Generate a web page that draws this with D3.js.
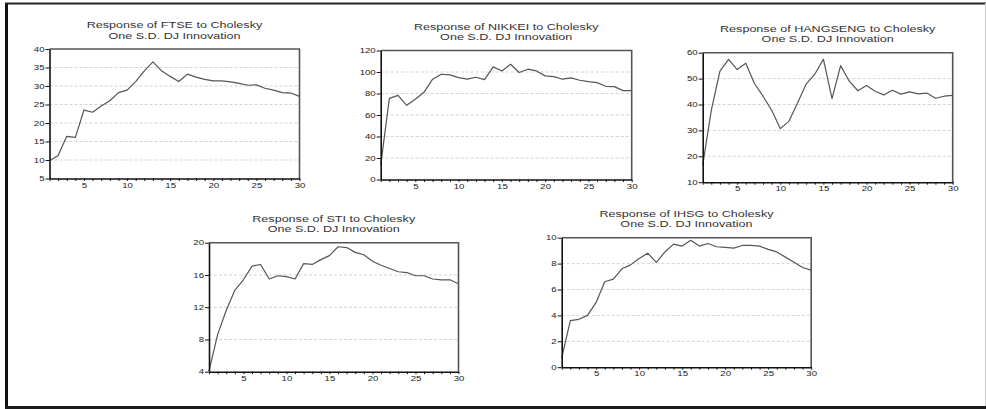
<!DOCTYPE html>
<html><head><meta charset="utf-8">
<script src="https://cdn.jsdelivr.net/npm/d3@7"></script>
<style>
html,body{margin:0;padding:0;background:#fff;}
svg{display:block;font-family:"Liberation Sans",Arial,sans-serif;}
</style></head>
<body><svg id="chart" width="986" height="409"></svg>
<script>
// ---- data ----
const periods = [1,2,3,4,5,6,7,8,9,10,11,12,13,14,15,16,17,18,19,20,21,22,23,24,25,26,27,28,29,30];
const xTickLabels = [5,10,15,20,25,30];

const ftse = [9.8,11.2,16.4,16.1,23.5,22.9,24.6,26.0,28.2,28.9,31.2,34.1,36.5,34.1,32.6,31.2,33.2,32.4,31.8,31.4,31.4,31.1,30.7,30.2,30.3,29.4,28.9,28.2,28.1,27.2];
const nikkei = [13.4,75.5,78.3,69.0,74.6,81.1,93.3,97.9,97.3,94.8,93.3,95.1,92.9,104.8,101.0,107.2,99.5,102.6,101.0,96.4,95.7,93.3,94.5,92.3,91.1,90.1,86.7,86.4,82.7,82.7];
const hangseng = [16.5,37.8,52.9,57.4,53.5,55.9,48.1,43.2,37.8,30.7,33.5,40.6,47.9,51.7,57.5,42.3,55.0,49.0,45.3,47.3,45.1,43.7,45.5,44.0,44.9,44.1,44.4,42.4,43.2,43.5];
const sti = [4.1,8.6,11.6,14.1,15.4,17.1,17.3,15.5,15.9,15.8,15.5,17.4,17.3,17.9,18.4,19.5,19.4,18.8,18.5,17.7,17.2,16.8,16.4,16.3,15.9,15.9,15.5,15.4,15.4,14.9];
const ihsg = [0.7,3.6,3.7,4.0,5.0,6.6,6.8,7.6,7.9,8.4,8.8,8.1,8.9,9.5,9.35,9.8,9.35,9.55,9.3,9.25,9.2,9.4,9.4,9.35,9.1,8.9,8.5,8.1,7.7,7.5];

const ftseTicks = [5,10,15,20,25,30,35,40];
const nikkeiTicks = [0,20,40,60,80,100,120];
const hangsengTicks = [10,20,30,40,50,60];
const stiTicks = [4,8,12,16,20];
const ihsgTicks = [0,2,4,6,8,10];

const titles1 = ["Response of FTSE to Cholesky","Response of NIKKEI to Cholesky","Response of HANGSENG to Cholesky","Response of STI to Cholesky","Response of IHSG to Cholesky"];
const title2 = "One S.D. DJ Innovation";

// ---- layout ----
const panels = [
  {title: titles1[0], values: ftse, ticks: ftseTicks, L: 49.5, T: 49, W: 250, H: 129.5},
  {title: titles1[1], values: nikkei, ticks: nikkeiTicks, L: 380.7, T: 50.5, W: 251, H: 129},
  {title: titles1[2], values: hangseng, ticks: hangsengTicks, L: 702.7, T: 52.7, W: 250, H: 129.5},
  {title: titles1[3], values: sti, ticks: stiTicks, L: 209, T: 242.7, W: 249.5, H: 129},
  {title: titles1[4], values: ihsg, ticks: ihsgTicks, L: 561.7, T: 237.7, W: 249.5, H: 129.5}
];

const svg = d3.select("#chart");
const STRETCH = 1.48;
function stretch(sel){
  sel.each(function(){
    const w = this.getComputedTextLength();
    this.setAttribute("textLength", w*STRETCH);
    this.setAttribute("lengthAdjust","spacingAndGlyphs");
  });
}

// outer border
svg.append("line").attr("x1",6.5).attr("x2",6.5).attr("y1",3).attr("y2",409).attr("stroke","#111").attr("stroke-width",3);
svg.append("line").attr("x1",5).attr("x2",986).attr("y1",3.5).attr("y2",3.5).attr("stroke","#222").attr("stroke-width",2);
svg.append("line").attr("x1",5).attr("x2",986).attr("y1",407.5).attr("y2",407.5).attr("stroke","#1a1a1a").attr("stroke-width",3);
svg.append("line").attr("x1",985.5).attr("x2",985.5).attr("y1",3).attr("y2",406).attr("stroke","#ccc").attr("stroke-width",1);

panels.forEach(p => {
  const g = svg.append("g").attr("transform",`translate(${p.L},${p.T})`);
  const x = d3.scaleLinear().domain([1,30]).range([0,p.W]);
  const y = d3.scaleLinear().domain(d3.extent(p.ticks)).range([p.H,0]);

  // gridlines
  g.append("g").selectAll("line").data(p.ticks.slice(1,-1)).join("line")
    .attr("x1",0).attr("x2",p.W).attr("y1",d=>y(d)).attr("y2",d=>y(d))
    .attr("stroke","#c8c8c8").attr("stroke-width",0.8).attr("stroke-dasharray","3,2");

  // frame top/right
  g.append("path").attr("d",`M0,0H${p.W}V${p.H}`).attr("fill","none").attr("stroke","#555").attr("stroke-width",1.6);

  // series line
  g.append("path").datum(p.values)
    .attr("fill","none").attr("stroke","#555").attr("stroke-width",1.2).attr("stroke-linejoin","round")
    .attr("d", d3.line().x((d,i)=>x(periods[i])).y(d=>y(d)));

  // axes
  const ya = g.append("g").call(d3.axisLeft(y).tickValues(p.ticks).tickSize(4).tickSizeOuter(0).tickPadding(1));
  const xa = g.append("g").attr("transform",`translate(0,${p.H})`)
    .call(d3.axisBottom(x).tickValues(periods).tickSize(2.5).tickSizeOuter(0).tickPadding(2)
      .tickFormat(d => xTickLabels.includes(d) ? d : ""));
  [ya,xa].forEach(a => {
    a.select(".domain").attr("stroke","#111").attr("stroke-width",1.6);
    a.selectAll(".tick line").attr("stroke","#111").attr("stroke-width",1);
    a.selectAll(".tick text").attr("font-size",6.5).attr("fill","#222").attr("font-family","Liberation Sans, Arial, sans-serif");
  });
  ya.selectAll(".tick text").call(stretch);
  xa.selectAll(".tick text").filter(d => xTickLabels.includes(d)).call(stretch);

  // titles
  const cx = p.W/2;
  g.append("text").attr("x",cx).attr("y",-21).attr("text-anchor","middle")
    .attr("font-size",8.5).attr("fill","#333").text(p.title).call(stretch);
  g.append("text").attr("x",cx).attr("y",-10.5).attr("text-anchor","middle")
    .attr("font-size",8.5).attr("fill","#333").text(title2).call(stretch);
});
</script></body></html>
